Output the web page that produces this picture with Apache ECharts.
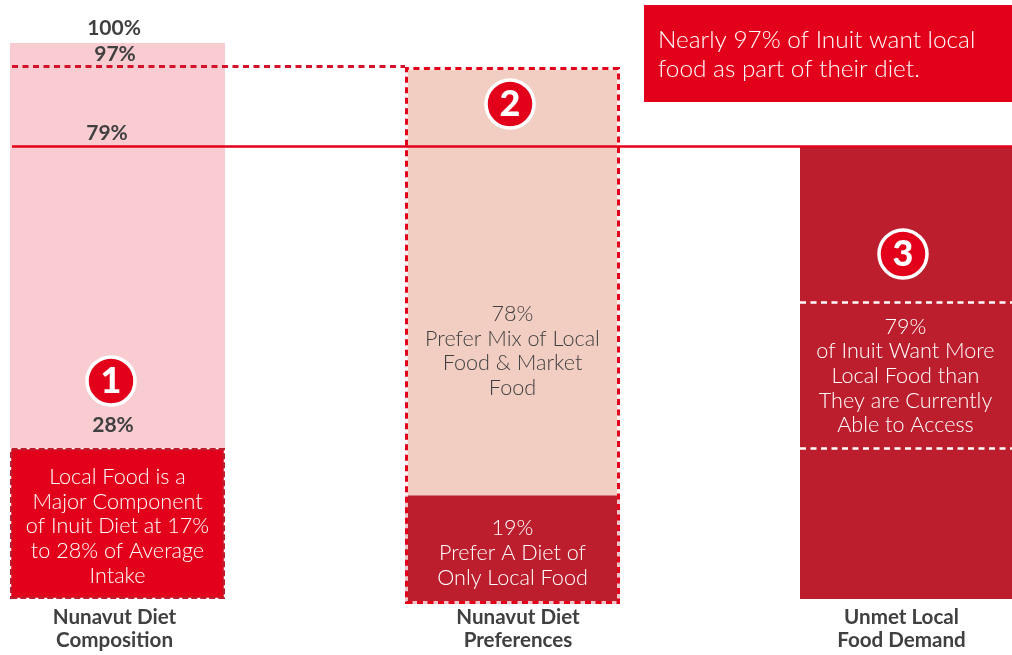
<!DOCTYPE html>
<html>
<head>
<meta charset="utf-8">
<style>
  html, body { margin: 0; padding: 0; background: #fff; }
  #chart { width: 1012px; height: 655px; }
</style>
</head>
<body>
<div id="chart"></div>
<script src="https://cdn.jsdelivr.net/npm/echarts@6/dist/echarts.min.js"></script>
<script>
// Axis runs 0 at the foot of the middle column to 100 at the top of the first
const categories = ['Nunavut Diet\nComposition', 'Nunavut Diet\nPreferences', 'Unmet Local\nFood Demand']
const baseGap = [0.9, 0, 0.9]
const lowerValues = [26.9, 19.4, 80.7]
const upperValues = [72.2, 76.3, 0]
const outlineValues = [null, 95.7, null]
const lowerText = [
  'Local Food is a\nMajor Component\nof Inuit Diet at 17%\nto 28% of Average\nIntake',
  '19%\nPrefer A Diet of\nOnly Local Food',
  '79%\nof Inuit Want More\nLocal Food than\nThey are Currently\nAble to Access'
]
const upperText = ['', '78%\nPrefer Mix of Local\nFood & Market\nFood', '']
const line97 = 95.9
const line79 = 81.6
const demandBandLow = 27.8
const demandBandHigh = 53.8

const RED = '#e2001a'
const DARK_RED = '#bc1e2d'
const PINK = '#f9ccd2'
const PEACH = '#f1cdc2'
const TEXT_DARK = '#404040'
const LIGHT_FONT = 'Lato'
const dash = [6, 4.5]

const chart = echarts.init(document.getElementById('chart'))

const boldLabel = (text, x, y) => ({
  type: 'text', x, y, z: 100,
  style: { text, fill: TEXT_DARK, font: '700 21px Lato', align: 'center', verticalAlign: 'middle' }
})

const badge = (num, cx, cy) => ({
  type: 'group', x: cx, y: cy,
  children: [
    { type: 'circle', z: 100, shape: { r: 24 }, style: { fill: RED, stroke: '#fff', lineWidth: 3.5 } },
    { type: 'text', z: 101, style: { text: num, fill: '#fff', font: '900 36px Lato', align: 'center', verticalAlign: 'middle' } }
  ]
})

const segLabel = (dx, dy) => ({
  show: true,
  position: 'inside',
  offset: [dx, dy],
  color: '#fff',
  fontFamily: LIGHT_FONT,
  fontWeight: 300,
  fontSize: 21.6,
  lineHeight: 24.7
})

const axisRich = (padding) => ({
  fontFamily: 'Lato', fontWeight: 700, fontSize: 20.6, color: TEXT_DARK, lineHeight: 23, padding
})

chart.setOption({
  animation: false,
  grid: { left: -80, right: -93, top: 43, bottom: 51, containLabel: false, outerBoundsMode: 'none' },
  xAxis: {
    type: 'category',
    data: categories,
    axisLine: { show: false },
    axisTick: { show: false },
    axisLabel: {
      interval: 0,
      margin: 2,
      lineHeight: 23,
      formatter: (value, idx) => {
        const tag = ['a', 'b', 'c'][idx]
        return value.split('\n').map(s => `{${tag}|${s}}`).join('\n')
      },
      rich: {
        a: axisRich([0, 6, 0, 0]),
        b: axisRich([0, 0, 0, 11]),
        c: axisRich([0, 12, 0, 0])
      }
    }
  },
  yAxis: { type: 'value', min: 0, max: 100, show: false },
  series: [
    {
      name: 'base',
      type: 'bar',
      stack: 'col',
      barWidth: 215,
      barGap: '-100%',
      silent: true,
      itemStyle: { color: 'transparent' },
      data: baseGap
    },
    {
      name: 'lower',
      type: 'bar',
      stack: 'col',
      barWidth: 215,
      data: lowerValues.map((v, i) => ({
        value: v,
        itemStyle: i === 0
          ? { color: RED, borderColor: DARK_RED, borderWidth: 2.5, borderType: [6, 3] }
          : { color: DARK_RED },
        label: { ...segLabel([0, 0, -2][i], [3, 3.5, 3.5][i]), formatter: lowerText[i] }
      }))
    },
    {
      name: 'upper',
      type: 'bar',
      stack: 'col',
      barWidth: 215,
      data: upperValues.map((v, i) => ({
        value: v,
        itemStyle: { color: i === 0 ? PINK : PEACH },
        label: i === 1
          ? { ...segLabel(0, 70), color: TEXT_DARK, formatter: upperText[i] }
          : { show: false }
      }))
    },
    {
      // pale edge that shows through the gaps of the dashes
      name: 'outlineBack',
      type: 'bar',
      barWidth: 215,
      barGap: '-100%',
      z: 3,
      silent: true,
      itemStyle: { color: 'transparent', borderColor: 'rgba(255,255,255,0.75)', borderWidth: 3 },
      data: outlineValues
    },
    {
      name: 'outline',
      type: 'bar',
      barWidth: 215,
      barGap: '-100%',
      z: 3,
      itemStyle: { color: 'transparent', borderColor: RED, borderWidth: 3, borderType: dash },
      data: outlineValues,
      markLine: {
        silent: true,
        symbol: 'none',
        label: { show: false },
        animation: false,
        data: [
          [
            { x: 12, yAxis: line97, lineStyle: { color: '#d4122a', width: 3, type: dash } },
            { x: 405, yAxis: line97 }
          ],
          [
            { x: 12, yAxis: line79, lineStyle: { color: RED, width: 2.5, type: 'solid' } },
            { x: 1012, yAxis: line79 }
          ],
          [
            { x: 800, yAxis: demandBandHigh, lineStyle: { color: '#fff', width: 2.5, type: dash } },
            { x: 1012, yAxis: demandBandHigh }
          ],
          [
            { x: 800, yAxis: demandBandLow, lineStyle: { color: '#fff', width: 2.5, type: dash } },
            { x: 1012, yAxis: demandBandLow }
          ]
        ]
      }
    }
  ],
  graphic: [
    boldLabel('100%', 114, 28),
    boldLabel('97%', 115, 54),
    boldLabel('79%', 107, 133),
    boldLabel('28%', 113, 425),
    badge('1', 111, 381),
    badge('2', 510, 104),
    badge('3', 903, 254),
    { type: 'rect', shape: { x: 644, y: 5, width: 368, height: 97 }, style: { fill: RED } },
    {
      type: 'text', x: 658, y: 55,
      style: {
        text: 'Nearly 97% of Inuit want local\nfood as part of their diet.',
        fill: '#fff',
        font: '300 24.4px Lato',
        lineHeight: 29,
        verticalAlign: 'middle'
      }
    }
  ]
})
</script>
</body>
</html>
